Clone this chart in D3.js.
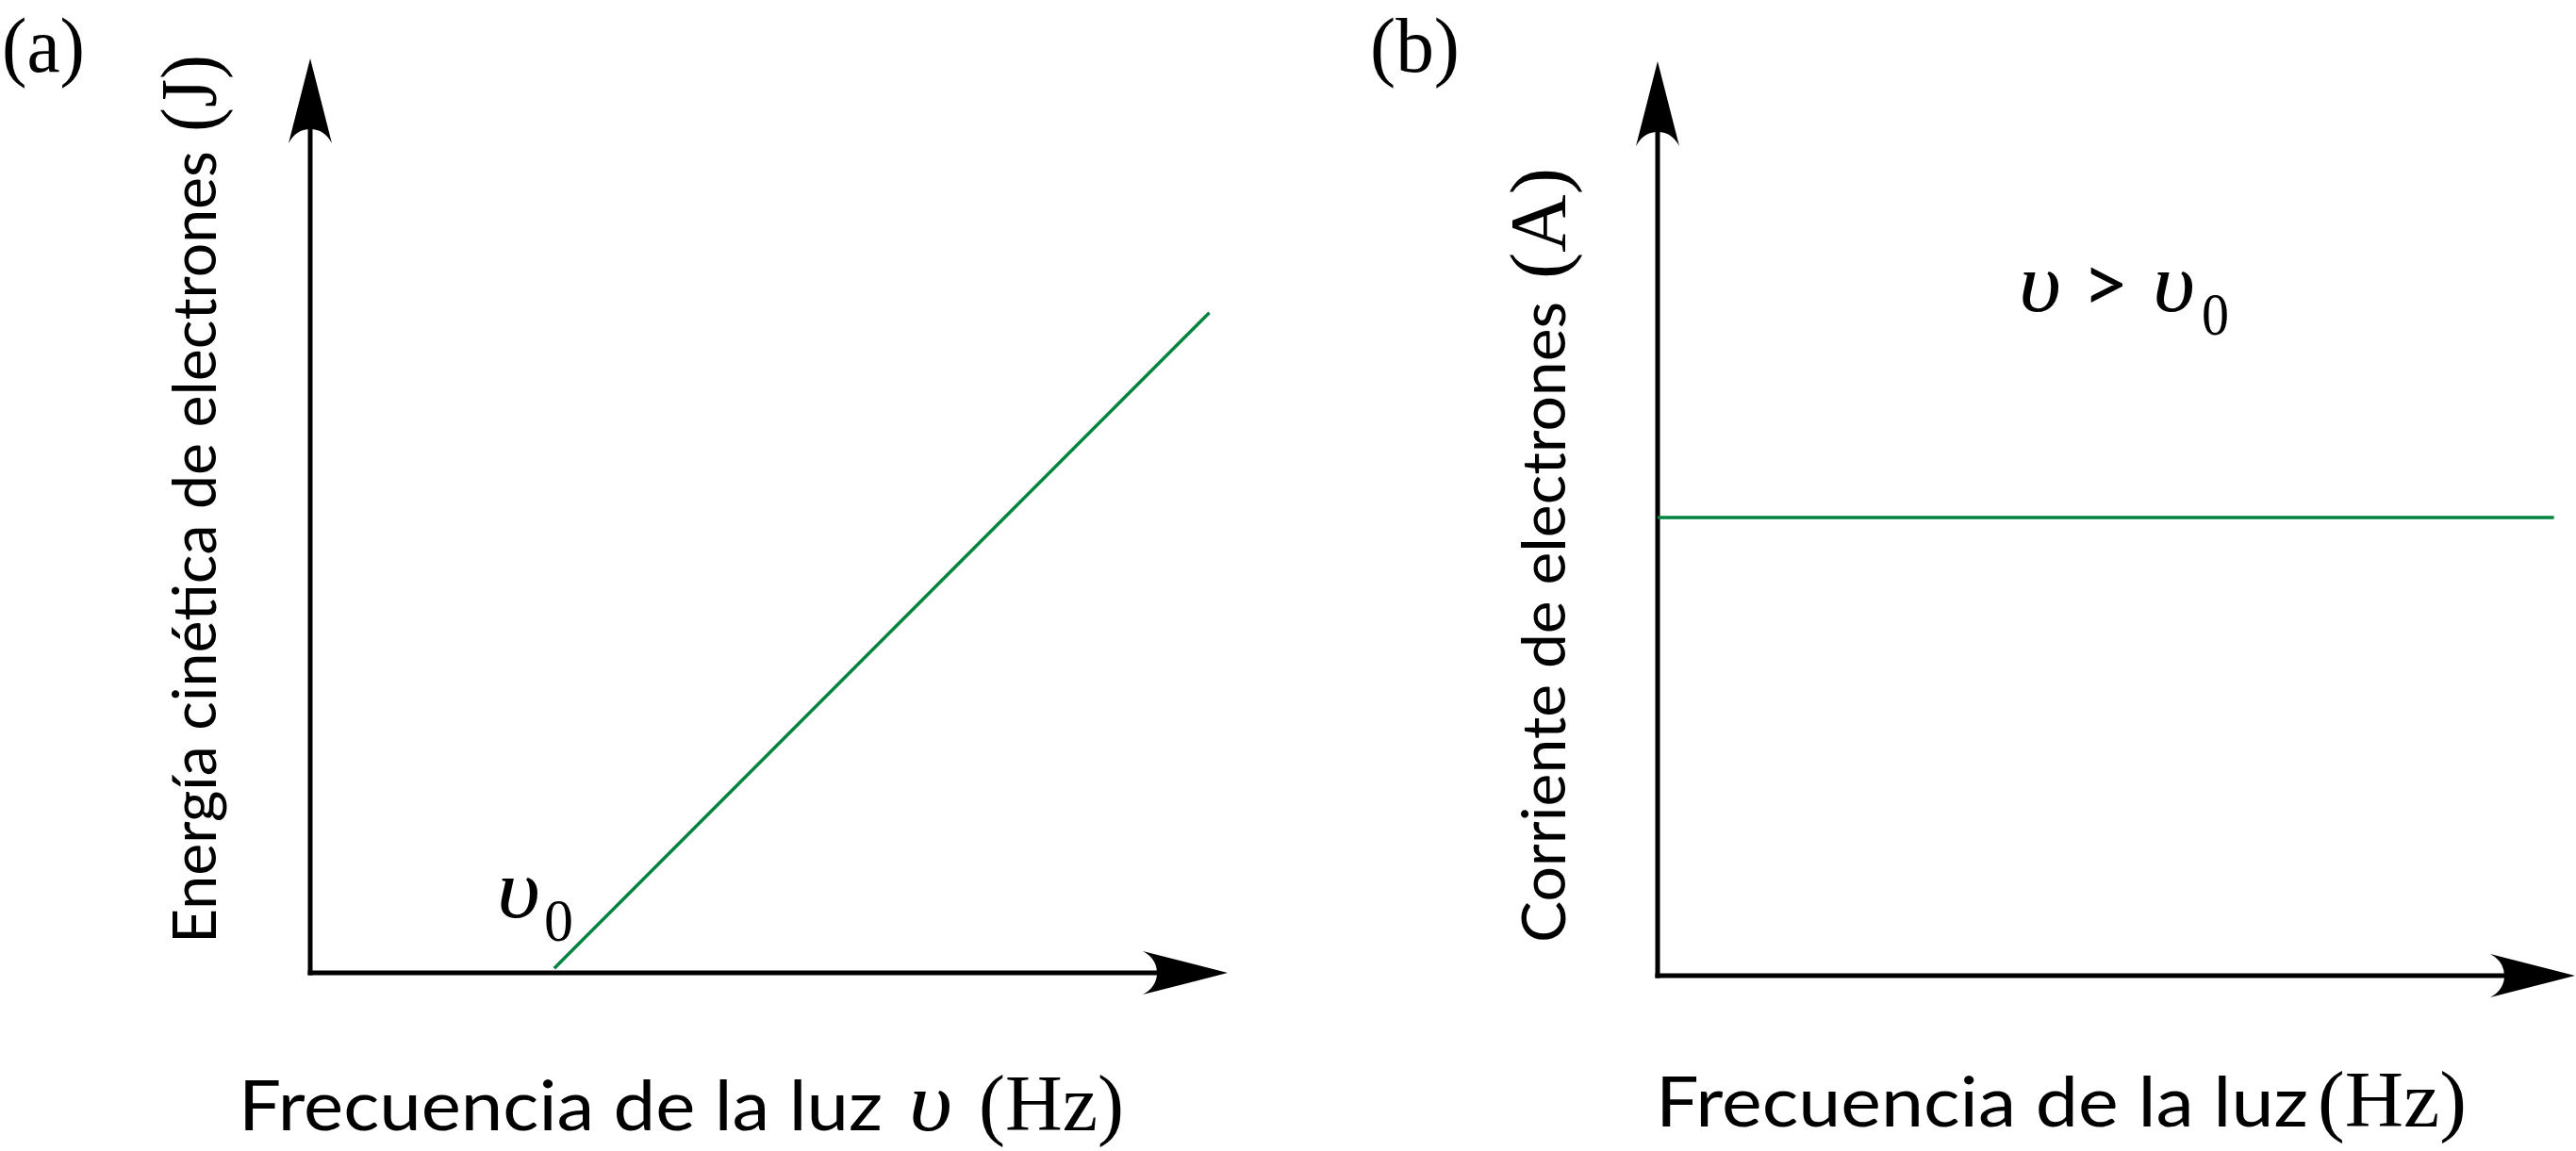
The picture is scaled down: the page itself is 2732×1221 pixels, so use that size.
<!DOCTYPE html>
<html><head><meta charset="utf-8">
<script src="https://cdn.jsdelivr.net/npm/d3@7"></script>
<style>html,body{margin:0;padding:0;background:#fff;overflow:hidden}</style>
</head><body><svg id="chart"></svg>
<script>
// ---------- data ----------
const panelLabels = ["(a)", "(b)"];
const freqA = [2.66, 9.80];      // frequency (arbitrary units) of the KE line
const energyA = [0.05, 7.22];    // kinetic energy (arbitrary units)
const freqB = [0, 9.77];         // frequency for the current line
const currentB = [5.01, 5.01];   // current (arbitrary units), constant
const axisMax = [10, 10];        // axis extent (x, y) in data units
const yTitles = ["Energía cinética de electrones", "Corriente de electrones"];
const yUnits = ["(J)", "(A)"];
const xTitle = "Frecuencia de la luz";
const xUnit = "(Hz)";
const nuSymbol = "υ";
const subZero = "0";
const condition = ["υ", ">", "υ", "0"];

// ---------- layout ----------
const W = 2732, H = 1221;
const svg = d3.select("#chart").attr("width", W).attr("height", H)
  .style("background", "#fff");
const green = "#00843f";
const SANS = "Lato, 'Open Sans', sans-serif";
const SERIF = "'Liberation Serif', 'DejaVu Serif', serif";

const panels = [
  {xr: [329, 1302], yr: [1032, 62]},
  {xr: [1758, 2731], yr: [1035, 65]}
];
const scales = panels.map(p => ({
  x: d3.scaleLinear().domain([0, axisMax[0]]).range(p.xr),
  y: d3.scaleLinear().domain([0, axisMax[1]]).range(p.yr)
}));

function arrowHead(tx, ty, dx, dy) {
  const len = 90, half = 23, notch = 75;
  const px = -dy, py = dx;
  const b1 = [tx - len*dx + half*px, ty - len*dy + half*py];
  const b2 = [tx - len*dx - half*px, ty - len*dy - half*py];
  const n = [tx - notch*dx, ty - notch*dy];
  const c1 = [tx - notch*dx + 0.65*half*px, ty - notch*dy + 0.65*half*py];
  const c2 = [tx - notch*dx - 0.65*half*px, ty - notch*dy - 0.65*half*py];
  const p = d3.path();
  p.moveTo(tx, ty);
  p.lineTo(b1[0], b1[1]);
  p.quadraticCurveTo(c1[0], c1[1], n[0], n[1]);
  p.quadraticCurveTo(c2[0], c2[1], b2[0], b2[1]);
  p.closePath();
  return p.toString();
}

function drawAxes(g, s) {
  const x0 = s.x(0), y0 = s.y(0);
  const xEnd = s.x(axisMax[0]), yEnd = s.y(axisMax[1]);
  g.append("line").attr("x1", x0 - 2.5).attr("y1", y0).attr("x2", xEnd - 70).attr("y2", y0)
    .attr("stroke", "#000").attr("stroke-width", 5);
  g.append("line").attr("x1", x0).attr("y1", y0 + 2.5).attr("x2", x0).attr("y2", yEnd + 70)
    .attr("stroke", "#000").attr("stroke-width", 5);
  g.append("path").attr("d", arrowHead(xEnd, y0, 1, 0)).attr("fill", "#000");
  g.append("path").attr("d", arrowHead(x0, yEnd, 0, -1)).attr("fill", "#000");
}

const line = s => d3.line().x(d => s.x(d[0])).y(d => s.y(d[1]));

// ---------- panel (a) ----------
const gA = svg.append("g");
drawAxes(gA, scales[0]);
gA.append("path").datum(d3.zip(freqA, energyA))
  .attr("d", line(scales[0])).attr("fill", "none")
  .attr("stroke", green).attr("stroke-width", 3.5);

// ---------- panel (b) ----------
const gB = svg.append("g");
drawAxes(gB, scales[1]);
gB.append("path").datum(d3.zip(freqB, currentB))
  .attr("d", line(scales[1])).attr("fill", "none")
  .attr("stroke", green).attr("stroke-width", 3.5);

// ---------- text ----------
function txt(x, y, s, opts) {
  const t = svg.append("text").attr("x", x).attr("y", y).text(s)
    .attr("font-family", opts.family).attr("font-size", opts.size)
    .attr("fill", "#000");
  if (opts.italic) t.attr("font-style", "italic");
  if (opts.weight) t.attr("font-weight", opts.weight);
  if (opts.len) t.attr("textLength", opts.len).attr("lengthAdjust", "spacingAndGlyphs");
  if (opts.rotate) t.attr("transform", `rotate(-90,${x},${y})`);
  return t;
}

// panel labels
txt(2, 76, panelLabels[0], {family: SERIF, size: 82, len: 88});
txt(1453, 76, panelLabels[1], {family: SERIF, size: 82, len: 95});

// x titles
txt(253, 1199, xTitle, {family: SANS, size: 74, len: 683});
txt(964, 1199, nuSymbol, {family: SERIF, size: 88, italic: true, len: 46});
txt(1038, 1199, xUnit, {family: SERIF, size: 84, len: 154});

txt(1756, 1195, xTitle, {family: SANS, size: 74, len: 692});
txt(2458, 1195, xUnit, {family: SERIF, size: 84, len: 158});

// y titles (rotated)
txt(229, 1001, yTitles[0], {family: SANS, size: 63, len: 841, rotate: true});
txt(229, 140, yUnits[0], {family: SERIF, size: 84, len: 82, rotate: true});

txt(1660, 1000, yTitles[1], {family: SANS, size: 63, len: 680, rotate: true});
txt(1660, 296, yUnits[1], {family: SERIF, size: 84, len: 118, rotate: true});

// υ0 annotation in (a)
txt(527, 973, nuSymbol, {family: SERIF, size: 88, italic: true, len: 46});
txt(577, 998, subZero, {family: SERIF, size: 63, len: 31});

// υ > υ0 in (b)
txt(2141, 330, condition[0], {family: SERIF, size: 88, italic: true, len: 45});
txt(2208, 331, condition[1], {family: SANS, size: 86, len: 50});
txt(2283, 330, condition[2], {family: SERIF, size: 88, italic: true, len: 45});
txt(2335, 355, condition[3], {family: SERIF, size: 63, len: 29});
</script></body></html>
